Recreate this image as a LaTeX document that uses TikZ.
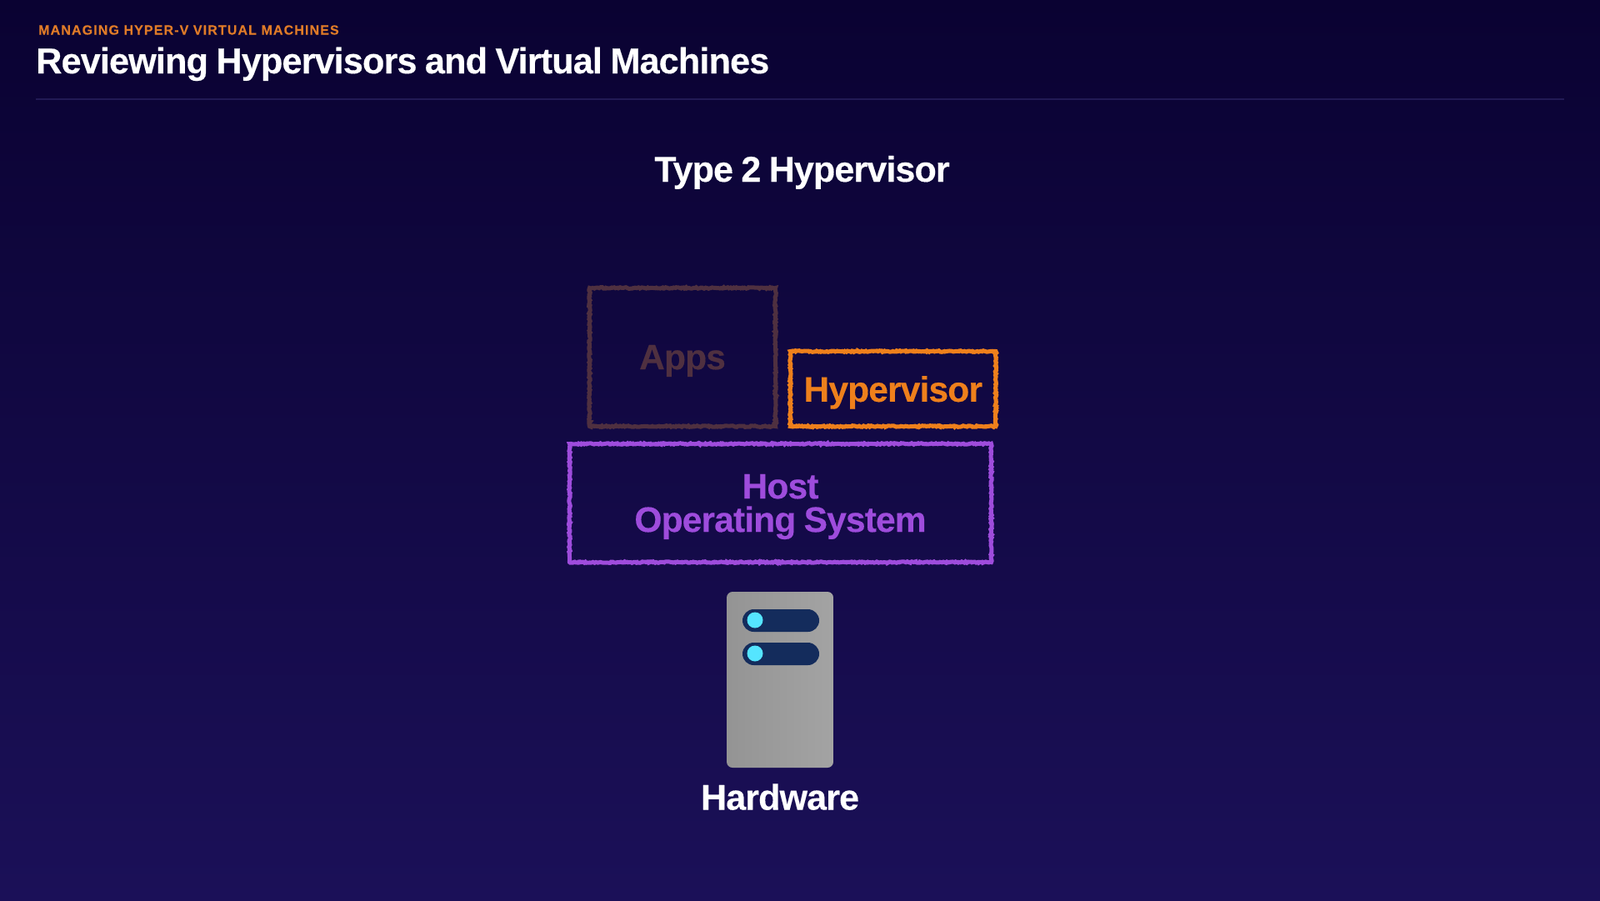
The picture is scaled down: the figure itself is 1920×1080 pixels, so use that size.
\documentclass[tikz,border=0pt]{standalone}
\usepackage{fontspec}
\usetikzlibrary{decorations.pathmorphing}
\setmainfont{Liberation Sans}
\newfontfamily\tightfont[LetterSpace=-2.0,WordSpace=0.85,BoldFeatures={FakeBold=0.3}]{Liberation Sans}
\newfontfamily\wideeyebrow[LetterSpace=7,BoldFeatures={FakeBold=0.2}]{Liberation Sans}
\definecolor{bgtop}{HTML}{0A0232}
\definecolor{bgmid}{HTML}{120A46}
\definecolor{bgbot}{HTML}{1B1058}
\definecolor{ruleline}{HTML}{221A55}
\definecolor{eyebrow}{HTML}{E07B28}
\definecolor{appscol}{HTML}{4F3040}
\definecolor{hypercol}{HTML}{EE801C}
\definecolor{hostcol}{HTML}{9E4CDC}
\definecolor{pillcol}{HTML}{142C5C}
\definecolor{dotcol}{HTML}{55E5FF}
\tikzset{
  x=1pt,y=-1pt,
  headtxt/.style={anchor=base,inner sep=0pt,outer sep=0pt,text=white,font=\tightfont\bfseries\fontsize{43}{43}\selectfont},
  chalkbox/.style={draw,line width=5pt,inner sep=0pt,outer sep=0pt,align=center,text depth=0pt,
    font=\tightfont\bfseries\fontsize{42.5}{40}\selectfont,
    decorate,decoration={random steps,segment length=1.6pt,amplitude=0.8pt}},
  pill/.style={fill=pillcol,inner sep=0pt,outer sep=0pt,minimum width=92pt,minimum height=27pt,rounded corners=13.5pt},
  lamp/.style={circle,fill=dotcol,inner sep=0pt,outer sep=0pt,minimum size=19pt}
}
\begin{document}
\begin{tikzpicture}
\useasboundingbox (0,0) rectangle (1920,1080);
\shade[top color=bgtop,middle color=bgmid,bottom color=bgbot] (0,0) rectangle (1920,1080);
\node[anchor=base west,inner sep=0pt,text=eyebrow,font=\wideeyebrow\bfseries\fontsize{16}{16}\selectfont] (eyebrowtxt) at (46,41.5) {MANAGING HYPER-V VIRTUAL MACHINES};
\node[anchor=base west,inner sep=0pt,text=white,font=\tightfont\bfseries\fontsize{43.2}{43.2}\selectfont] (titletxt) at (43,88) {Reviewing Hypervisors and Virtual Machines};
\coordinate (ruleL) at (43,119);
\coordinate (ruleR) at (1877,119);
\draw[ruleline,line width=2.5pt] (ruleL) -- (ruleR);
\node[headtxt] (typetxt) at (962.5,218) {Type 2 Hypervisor};
\node[chalkbox,draw=appscol,text=appscol,minimum width=223pt,minimum height=166pt] (apps) at (819,428.5) {Apps};
\node[chalkbox,draw=hypercol,text=hypercol,minimum width=246.5pt,minimum height=90pt] (hyper) at (1071.7,466.5) {Hypervisor};
\node[chalkbox,draw=hostcol,text=hostcol,minimum width=506pt,minimum height=142pt] (host) at (936.5,603.5) {Host\\Operating System};
\node[rounded corners=7pt,left color=black!42,right color=black!36,inner sep=0pt,outer sep=0pt,minimum width=128pt,minimum height=211pt] (server) at (936,815.5) {};
\node[pill] (pillA) at (937,744.5) {};
\node[pill] (pillB) at (937,784.5) {};
\node[lamp] (lampA) at (906,744) {};
\node[lamp] (lampB) at (906,784) {};
\node[headtxt] (hardware) at (936,971.5) {Hardware};
\end{tikzpicture}
\end{document}
